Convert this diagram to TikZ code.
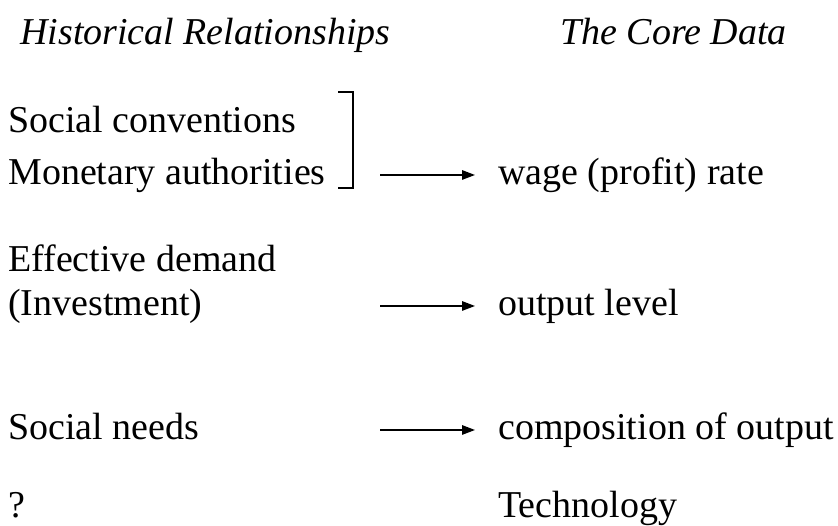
\documentclass[tikz,border=0pt]{standalone}
\usepackage{amsmath, amssymb}
\usepackage{fontspec}
\setmainfont{Liberation Serif}
\usepackage{tikz}
\usetikzlibrary{arrows.meta}

\tikzset{
  txt/.style={anchor=base west, inner sep=0pt, font=\fontsize{21.6}{26}\selectfont},
  head/.style={txt, font=\fontsize{21.6}{26}\selectfont\itshape},
  flow/.style={-{Triangle[length=2.6mm,width=1.9mm]}, line width=0.8pt, shorten >=4.6mm}
}

\begin{document}
\begin{tikzpicture}
  \useasboundingbox (0,0) rectangle (16.76,10.52);

  % column headings
  \node[head] (hist) at (0.4,9.62) {Historical Relationships};
  \node[head] (core) at (11.2,9.62) {The Core Data};

  % left column
  \node[txt] (conv)    at (0.16,7.86) {Social conventions};
  \node[txt] (monet)   at (0.16,6.82) {Monetary authorities};
  \node[txt] (effdem)  at (0.16,5.08) {Effective demand};
  \node[txt] (invest)  at (0.16,4.2)  {(Investment)};
  \node[txt] (needs)   at (0.16,1.72) {Social needs};
  \node[txt] (unknown) at (0.16,0.17) {?};

  % right column
  \node[txt] (wage)   at (9.96,6.82) {wage (profit) rate};
  \node[txt] (output) at (9.96,4.2)  {output level};
  \node[txt] (compos) at (9.96,1.72) {composition of output};
  \node[txt] (tech)   at (9.96,0.17) {Technology};

  % bracket round the first two
  \draw[line width=0.8pt] (6.76,8.68) -- (7.06,8.68) -- (7.06,6.76) -- (6.76,6.76);

  % arrows
  \foreach \t/\y in {wage/7.02, output/4.4, compos/1.92} {
    \coordinate (tail-\t) at (7.6,\y);
    \draw[flow] (tail-\t) -- (tail-\t -| \t.west);
  }
\end{tikzpicture}
\end{document}
